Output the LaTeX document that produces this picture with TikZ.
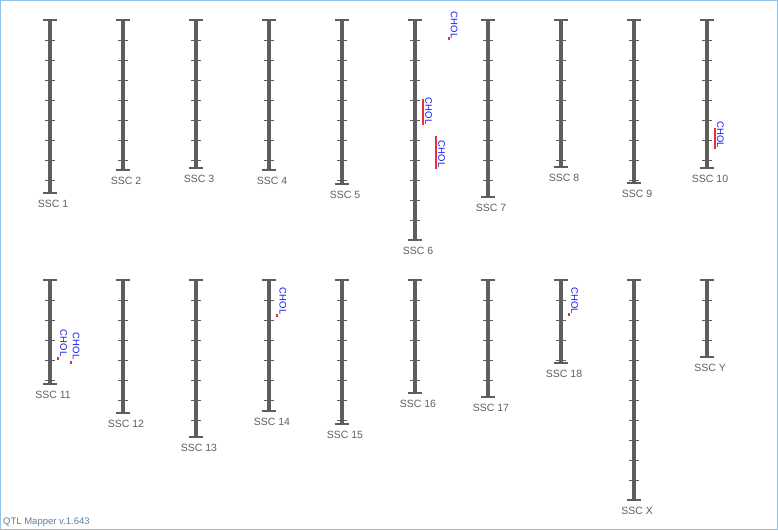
\documentclass[tikz,border=0pt]{standalone}
\usepackage{fontspec}
\setmainfont{Liberation Sans}
\definecolor{chromgray}{HTML}{5E5E5E}
\definecolor{labelgray}{HTML}{5F5F5F}
\definecolor{frameblue}{HTML}{8EC3EA}
\definecolor{footblue}{HTML}{5F7C99}
\definecolor{qtlred}{HTML}{E8323A}
\definecolor{qtlblue}{HTML}{1414F5}
\begin{document}
\begin{tikzpicture}[x=1pt,y=-1pt,
  chrom/.style={draw=chromgray,line width=4.8pt},
  chromcap/.style={draw=chromgray,line width=2pt},
  chromtick/.style={draw=chromgray,line width=0.9pt},
  chrlabel/.style={text=labelgray,inner sep=0pt,font=\fontsize{10.5}{12}\selectfont},
  qtlbar/.style={draw=qtlred,line width=2pt},
  qtltext/.style={rotate=-90,anchor=south east,inner sep=0pt,text=qtlblue,font=\fontsize{9.5}{10}\selectfont}]
\useasboundingbox (0,0) rectangle (778,530);
% frame
\draw[frameblue,line width=1pt] (0.5,0.5) rectangle (777.5,529.5);
% chromosomes
\foreach \lab/\x/\t/\b in {1/50/20/193, 2/123/20/170, 3/196/20/168, 4/269/20/170, 5/342/20/184,
  6/415/20/240, 7/488/20/197, 8/561/20/167, 9/634/20/183, 10/707/20/168,
  11/50/280/384, 12/123/280/413, 13/196/280/437, 14/269/280/411, 15/342/280/424,
  16/415/280/393, 17/488/280/397, 18/561/280/363, X/634/280/500, Y/707/280/357} {
  \draw[chrom] (\x,\t) -- (\x,\b);
  \draw[chromcap] (\x-7,\t) -- (\x+7,\t) (\x-7,\b) -- (\x+7,\b);
  \pgfmathtruncatemacro\nt{(\b-\t-2)/20}
  \foreach \k in {1,...,\nt}
    \draw[chromtick] (\x-5,\t+20*\k) -- (\x+5,\t+20*\k);
  \node[chrlabel] (ssc\lab) at (\x+3,\b+11) {SSC \lab};
}
% QTL on SSC 6
\fill[qtlred] (448,37) rectangle (450,40);
\node[qtltext] (chol6a) at (450.5,38.5) {CHOL};
\draw[qtlbar] (422.5,99) -- (422.5,125);
\node[qtltext] (chol6b) at (425,124.5) {CHOL};
\draw[qtlbar] (436,136) -- (436,169);
\node[qtltext] (chol6c) at (438,167.5) {CHOL};
% QTL on SSC 10
\draw[qtlbar] (714.5,128) -- (714.5,149);
\node[qtltext] (chol10) at (716.7,148.3) {CHOL};
% QTL on SSC 11
\fill[qtlred] (57,357) rectangle (59,360);
\node[qtltext] (chol11a) at (60,356.5) {CHOL};
\fill[qtlred] (70,360.5) rectangle (72,363.5);
\node[qtltext] (chol11b) at (72.7,359.5) {CHOL};
% QTL on SSC 14
\fill[qtlred] (276,313.5) rectangle (278,316.5);
\node[qtltext] (chol14) at (279.3,314.5) {CHOL};
% QTL on SSC 18
\fill[qtlred] (568,313) rectangle (570,316);
\node[qtltext] (chol18) at (571,314.3) {CHOL};
% version
\node[anchor=south west,inner sep=0pt,text=footblue,font=\fontsize{9.5}{10}\selectfont] (version) at (3,527) {QTL Mapper v.1.643};
\end{tikzpicture}
\end{document}
